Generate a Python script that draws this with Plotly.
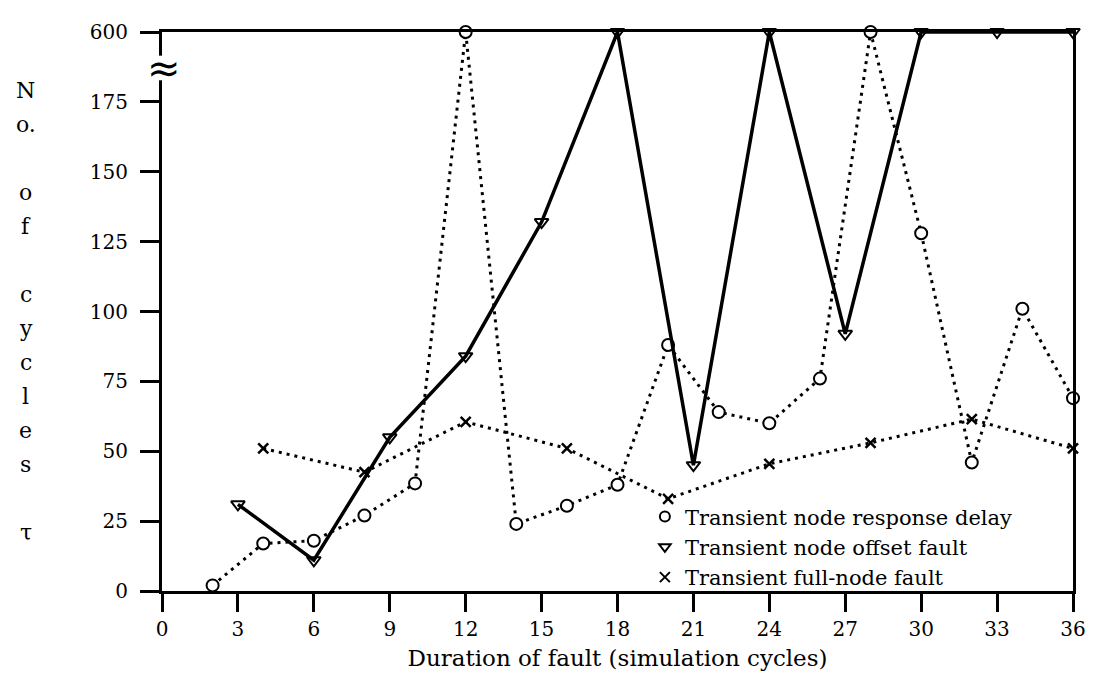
import plotly.graph_objects as go

# ---------------- data ----------------
x_delay = [2, 4, 6, 8, 10, 12, 14, 16, 18, 20, 22, 24, 26, 28, 30, 32, 34, 36]
y_delay = [2, 17, 18, 27, 38.5, 600, 24, 30.5, 38, 88, 64, 60, 76, 600, 128, 46, 101, 69]

x_offset = [3, 6, 9, 12, 15, 18, 21, 24, 27, 30, 33, 36]
y_offset = [31, 11, 55, 84, 132, 600, 45, 600, 92, 600, 600, 600]

x_full = [4, 8, 12, 16, 20, 24, 28, 32, 36]
y_full = [51, 42.5, 60.5, 51, 33, 45.5, 53, 61.5, 51]

x_ticks = list(range(0, 37, 3))
y_ticks_low = [0, 25, 50, 75, 100, 125, 150, 175]
y_break_value = 600          # value shown above the axis break
y_break_pos = 200            # where that value sits on the drawn (linear) axis

series_names = ["Transient node response delay",
                "Transient node offset fault",
                "Transient full-node fault"]

y_title_lines = ["N", "o.", "", "o", "f", "", "c", "y", "c", "l", "e", "s", "", "τ"]


def to_axis(values):
    """Broken y scale: values above the break are drawn at the break position."""
    return [v if v <= y_ticks_low[-1] else y_break_pos for v in values]


FONT = "DejaVu Serif"
fig = go.Figure()

dotted = "3px,5px"

fig.add_trace(go.Scatter(
    x=x_full, y=to_axis(y_full), mode="lines+markers", showlegend=False,
    line=dict(color="black", width=3, dash=dotted),
    marker=dict(symbol="x-thin", size=10, line=dict(color="black", width=2.5)),
    cliponaxis=False))

fig.add_trace(go.Scatter(
    x=x_delay, y=to_axis(y_delay), mode="lines+markers", showlegend=False,
    line=dict(color="black", width=3, dash=dotted),
    marker=dict(symbol="circle", size=12, color="white", line=dict(color="black", width=2)),
    cliponaxis=False))

fig.add_trace(go.Scatter(
    x=x_offset, y=to_axis(y_offset), mode="lines+markers", showlegend=False,
    line=dict(color="black", width=3.5),
    marker=dict(symbol="triangle-down-open", size=12, color="black", line=dict(width=2)),
    cliponaxis=False))

# legend entries (markers only, as in the original)
legend_symbols = ["circle-open", "triangle-down-open", "x-thin"]
for name, sym in zip(series_names, legend_symbols):
    fig.add_trace(go.Scatter(
        x=[None], y=[None], mode="markers", name=name,
        marker=dict(symbol=sym, size=10, color="black", line=dict(color="black", width=2))))

# ---- layout geometry (pixels); the page body adds an 8px offset ----
OFF = 8
W, H = 1098 - OFF, 679 - OFF
L, R, T, B = 162 - OFF, 21, 25 - OFF, 87
pw, ph = W - L - R, H - T - B


def px_x(page_x):
    return (page_x - OFF - L) / pw


def px_y(page_y):
    return (H - B - (page_y - OFF)) / ph


annotations = []
# stacked vertical y-axis title
for i, s in enumerate(y_title_lines):
    if not s:
        continue
    py = 84 + i * 34.5
    annotations.append(dict(
        text=s, xref="paper", yref="paper", x=px_x(25), y=px_y(py),
        xanchor="center", yanchor="middle", showarrow=False,
        font=dict(family=FONT, size=22, color="black")))

# axis-break mark
annotations.append(dict(
    text="≈", xref="paper", yref="paper", x=px_x(164), y=px_y(62),
    xanchor="center", yanchor="middle", showarrow=False,
    font=dict(family="DejaVu Sans", size=40, color="black")))

shapes = [dict(type="rect", xref="paper", yref="paper", x0=px_x(156), x1=px_x(170),
               y0=px_y(74), y1=px_y(49),
               fillcolor="white", line=dict(width=0), layer="above")]

fig.update_layout(
    width=W, height=H,
    margin=dict(l=L, r=R, t=T, b=B),
    paper_bgcolor="white", plot_bgcolor="white",
    font=dict(family=FONT, color="black", size=20),
    showlegend=True,
    legend=dict(x=px_x(647), y=px_y(496), xanchor="left", yanchor="top",
                bgcolor="rgba(0,0,0,0)", borderwidth=0,
                font=dict(family=FONT, size=21, color="black"),
                itemwidth=30, tracegroupgap=0),
    annotations=annotations,
    shapes=shapes,
    xaxis=dict(range=[0, 36], tickvals=x_ticks, ticktext=[str(t) for t in x_ticks],
               showgrid=False, zeroline=False,
               showline=True, linecolor="black", linewidth=3, mirror=True,
               ticks="outside", ticklen=18, tickwidth=3, tickcolor="black",
               tickfont=dict(family=FONT, size=20),
               title=dict(text="Duration of fault (simulation cycles)",
                          font=dict(family=FONT, size=23), standoff=10)),
    yaxis=dict(range=[0, y_break_pos],
               tickvals=y_ticks_low + [y_break_pos],
               ticktext=[str(t) for t in y_ticks_low] + [str(y_break_value)],
               showgrid=False, zeroline=False,
               showline=True, linecolor="black", linewidth=3, mirror=True,
               ticks="outside", ticklen=19, tickwidth=3, tickcolor="black",
               ticklabelstandoff=8,
               tickfont=dict(family=FONT, size=20)),
)

fig.write_html("out.html")
